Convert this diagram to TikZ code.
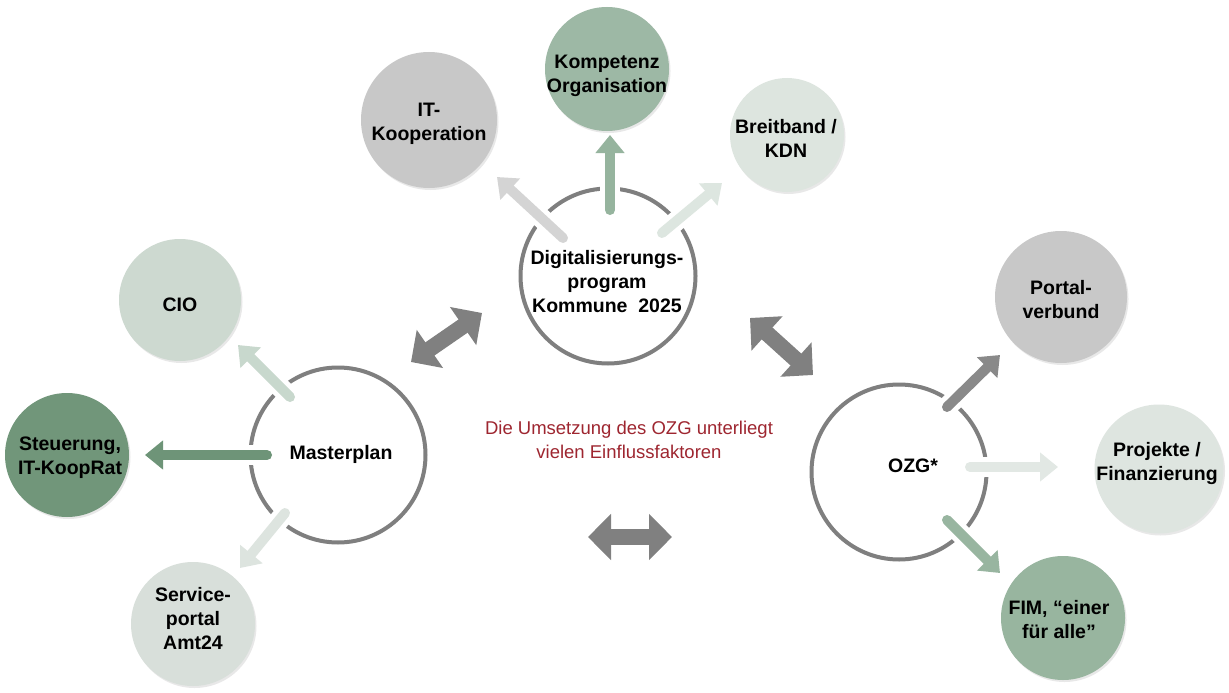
\documentclass[tikz,border=0pt]{standalone}
\usepackage{fontspec}
\setmainfont{Liberation Sans}
\usetikzlibrary{arrows.meta,calc,shadows}

% ring and connector greys
\definecolor{ringgray}{RGB}{127,127,127}
\definecolor{linkgray}{RGB}{128,128,128}
\definecolor{notered}{RGB}{158,38,48}
% satellite fills
\definecolor{itgray}{RGB}{200,200,200}
\definecolor{kompgreen}{RGB}{157,184,165}
\definecolor{bbgreen}{RGB}{221,229,223}
\definecolor{ciogreen}{RGB}{205,217,208}
\definecolor{stgreen}{RGB}{113,150,122}
\definecolor{svgreen}{RGB}{216,223,218}
\definecolor{pvgray}{RGB}{200,200,200}
\definecolor{pjgreen}{RGB}{222,229,224}
\definecolor{fimgreen}{RGB}{152,181,159}
% spoke arrow colours
\definecolor{aIT}{RGB}{212,212,212}
\definecolor{aKomp}{RGB}{150,180,158}
\definecolor{aBB}{RGB}{221,230,224}
\definecolor{aCIO}{RGB}{200,216,205}
\definecolor{aST}{RGB}{110,148,120}
\definecolor{aSV}{RGB}{221,228,223}
\definecolor{aPV}{RGB}{137,137,137}
\definecolor{aPJ}{RGB}{226,232,228}
\definecolor{aFIM}{RGB}{152,181,160}

% spoke from a hub ring to a satellite: colour, hub, start offset, satellite, tip offset
\newcommand\hubspoke[5]{%
  \coordinate (spokeA) at ($(#2)+(#3)$);
  \coordinate (spokeB) at ($(#4)+(#5)$);
  \draw[white, line width=20pt] (spokeA) -- ($(spokeA)!0.45!(spokeB)$);
  \draw[spokearrow, color=#1] (spokeA) -- (spokeB);
}

\begin{document}
\begin{tikzpicture}[x=1pt,y=-1pt,
  ring/.style={circle, draw=ringgray, line width=4pt, minimum size=175pt,
    inner sep=0pt, outer sep=0pt},
  sat/.style={circle, inner sep=0pt, outer sep=0pt,
    drop shadow={shadow xshift=1.5pt, shadow yshift=-2pt, opacity=0.18}},
  lbl/.style={font=\bfseries\fontsize{19.5}{24}\selectfont, align=center,
    inner sep=0pt},
  spokearrow/.style={line width=10pt, line cap=round,
    -{Triangle[width=28pt,length=18pt]}},
  linkarrow/.style={color=linkgray, line width=16pt,
    {Triangle[width=45pt,length=23pt]}-{Triangle[width=45pt,length=23pt]}},
]
\fill[white] (0,0) rectangle (1229,693);
\useasboundingbox (0,0) rectangle (1229,693);

% hub rings
\node[ring] (dig) at (608,276) {};
\node[ring] (mp)  at (338,455) {};
\node[ring] (ozg) at (899,472) {};

% satellites
\node[sat, fill=itgray,    minimum size=136pt] (itk)  at (429,120)  {};
\node[sat, fill=kompgreen, minimum size=124pt] (komp) at (607,69)   {};
\node[sat, fill=bbgreen,   minimum size=114pt] (bb)   at (787,135)  {};
\node[sat, fill=ciogreen,  minimum size=122pt] (cio)  at (180,300)  {};
\node[sat, fill=stgreen,   minimum size=124pt] (st)   at (67,455)   {};
\node[sat, fill=svgreen,   minimum size=124pt] (sv)   at (193,624)  {};
\node[sat, fill=pvgray,    minimum size=132pt] (pv)   at (1061,297) {};
\node[sat, fill=pjgreen,   minimum size=129pt] (pj)   at (1159,469) {};
\node[sat, fill=fimgreen,  minimum size=124pt] (fim)  at (1063,618) {};

% spokes
\hubspoke{aIT}{dig}{-45,-38}{itk}{68,57}
\hubspoke{aKomp}{dig}{2,-66}{komp}{3,66}
\hubspoke{aBB}{dig}{54,-43}{bb}{-65,48}
\hubspoke{aCIO}{mp}{-48,-58}{cio}{58,45}
\hubspoke{aST}{mp}{-71,0}{st}{78,0}
\hubspoke{aSV}{mp}{-53,58}{sv}{47,-56}
\hubspoke{aPV}{ozg}{48,-65}{pv}{-61,58}
\hubspoke{aPJ}{ozg}{71,-5}{pj}{-101,-2}
\hubspoke{aFIM}{ozg}{48,48}{fim}{-63,-45}

% hub labels
\node[lbl] (digL) at (607,282) {Digitalisierungs-\\program\\Kommune\ \ 2025};
\node[lbl] (mpL)  at (341,454) {Masterplan};
\node[lbl] (ozgL) at (913,466) {OZG*};

% satellite labels
\node[lbl] (itkL)  at (429,124)  {IT-\\Kooperation};
\node[lbl] (kompL) at (607,76)   {Kompetenz\\Organisation};
\node[lbl] (bbL)   at (786,138)  {Breitband /\\KDN};
\node[lbl] (cioL)  at (180,305)  {CIO};
\node[lbl] (stL)   at (70,458)   {Steuerung,\\IT-KoopRat};
\node[lbl] (svL)   at (193,619)  {Service-\\portal\\Amt24};
\node[lbl] (pvL)   at (1061,300) {Portal-\\verbund};
\node[lbl] (pjL)   at (1157,463) {Projekte /\\Finanzierung};
\node[lbl] (fimL)  at (1059,620) {FIM, “einer\\für alle”};

% note in the middle
\node[font=\fontsize{18.5}{24}\selectfont, text=notered, align=center,
  inner sep=0pt] (note) at (629,440)
  {Die Umsetzung des OZG unterliegt\\vielen Einflussfaktoren};

% links between the hubs
\draw[linkarrow] ($(mp)+(73,-93)$) -- ($(dig)+(-126,37)$);
\draw[linkarrow] ($(dig)+(142,42)$) -- ($(ozg)+(-86,-97)$);
\draw[linkarrow] ($(note)+(-41,97)$) -- ($(note)+(43,97)$);
\end{tikzpicture}
\end{document}
